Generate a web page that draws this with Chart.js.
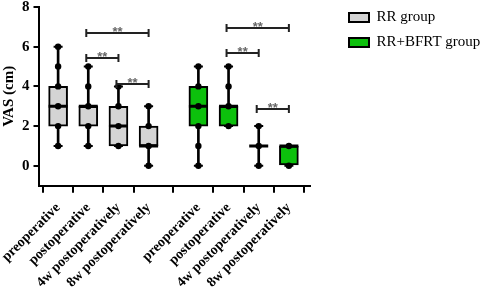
<!DOCTYPE html>
<html>
<head>
<meta charset="utf-8">
<script src="https://cdn.jsdelivr.net/npm/chart.js@4.4.1/dist/chart.umd.min.js"></script>
<style>
html,body{margin:0;padding:0;background:#fff;}
#wrap{width:484px;height:293px;}
</style>
</head>
<body>
<div id="wrap"><canvas id="c" width="484" height="293"></canvas></div>
<script>
// ---- data ----
const categories = ['preoperative', 'postoperative', '4w postoperatively', '8w postoperatively'];
const groupNames = ['RR group', 'RR+BFRT group'];

const rrMin = [1, 1, 1, 0];
const rrQ1  = [2, 2, 1, 1];
const rrMed = [3, 3, 2, 1];
const rrQ3  = [4, 3, 3, 2];
const rrMax = [6, 5, 4, 3];
const rrDots = [[1, 2, 3, 4, 5, 6], [1, 2, 3, 4, 5], [1, 2, 3, 4], [0, 1, 2, 3]];

const bfMin = [0, 2, 0, 0];
const bfQ1  = [2, 2, 1, 0];
const bfMed = [3, 3, 1, 1];
const bfQ3  = [4, 3, 1, 1];
const bfMax = [5, 5, 2, 1];
const bfDots = [[0, 1, 2, 3, 4, 5], [2, 3, 4, 5], [0, 1, 2], [0, 1]];

const yTicks = [0, 2, 4, 6, 8];

// significance comparisons (category indices) and bracket heights (VAS units)
const sigFrom = [1, 1, 2];
const sigTo   = [3, 2, 3];
const sigText = ['**', '**', '**'];
const rrSigY = [6.7, 5.45, 4.1];
const bfSigY = [6.95, 5.7, 2.85];

// ---- layout helpers ----
const GROUP_SHIFT = 4.65, FIRST = 0.65;
const pos = (g, i) => FIRST + g * GROUP_SHIFT + i;
const allPos = [];
const allLabels = [];
[0, 1].forEach(g => categories.forEach((c, i) => { allPos.push(pos(g, i)); allLabels.push(c); }));

const groups = [
  {min: rrMin, q1: rrQ1, med: rrMed, q3: rrQ3, max: rrMax, dots: rrDots, color: '#d4d4d4', sig: rrSigY},
  {min: bfMin, q1: bfQ1, med: bfMed, q3: bfQ3, max: bfMax, dots: bfDots, color: '#0cc00c', sig: bfSigY}
];

const datasets = [];
groups.forEach((G, g) => {
  datasets.push({
    type: 'bar', label: groupNames[g],
    data: categories.map((c, i) => ({x: pos(g, i), y: [G.q1[i], G.q3[i]]})),
    backgroundColor: G.color, borderColor: '#000', borderWidth: 2, borderSkipped: false,
    barThickness: 19, grouped: false, order: 2
  });
  datasets.push({
    type: 'bar', label: 'whisker' + g,
    data: categories.map((c, i) => ({x: pos(g, i), y: [G.min[i], G.max[i]]})),
    backgroundColor: '#000', borderWidth: 0, barThickness: 2, grouped: false, order: 3
  });
  const caps = [];
  categories.forEach((c, i) => { caps.push({x: pos(g, i), y: G.min[i]}); caps.push({x: pos(g, i), y: G.max[i]}); });
  datasets.push({
    type: 'scatter', label: 'caps' + g, data: caps,
    pointStyle: 'line', pointRadius: 4.5, pointBorderWidth: 2, borderColor: '#000', backgroundColor: '#000', order: 1
  });
  datasets.push({
    type: 'scatter', label: 'median' + g,
    data: categories.map((c, i) => ({x: pos(g, i), y: G.med[i]})),
    pointStyle: 'line', pointRadius: 9.5, pointBorderWidth: 3, borderColor: '#000', backgroundColor: '#000', order: 0
  });
  const dots = [];
  categories.forEach((c, i) => G.dots[i].forEach(v => dots.push({x: pos(g, i), y: v})));
  datasets.push({
    type: 'scatter', label: 'dots' + g, data: dots,
    pointStyle: 'circle', pointRadius: 3.2, borderWidth: 0, backgroundColor: '#000', borderColor: '#000', order: 0
  });
});

const serif = '"Liberation Serif", "Times New Roman", serif';

const bracketPlugin = {
  id: 'brackets',
  afterDatasetsDraw(chart) {
    const xs = chart.scales.x, ys = chart.scales.y, ctx = chart.ctx;
    ctx.save();
    groups.forEach((G, g) => {
      sigFrom.forEach((f, k) => {
        const x1 = xs.getPixelForValue(pos(g, f)) - 2, x2 = xs.getPixelForValue(pos(g, sigTo[k]));
        const y = Math.round(ys.getPixelForValue(G.sig[k]));
        ctx.strokeStyle = '#222'; ctx.lineWidth = 2;
        ctx.beginPath();
        ctx.moveTo(x1, y); ctx.lineTo(x2, y);
        ctx.moveTo(x1, y - 4); ctx.lineTo(x1, y + 4);
        ctx.moveTo(x2, y - 4); ctx.lineTo(x2, y + 4);
        ctx.stroke();
        ctx.fillStyle = '#666';
        ctx.font = 'bold 13px "Liberation Sans", Arial, sans-serif';
        ctx.textAlign = 'center'; ctx.textBaseline = 'alphabetic';
        ctx.fillText(sigText[k], (x1 + x2) / 2, y + 3);
      });
    });
    ctx.restore();
  }
};

const LEGEND_W = 174, LEGEND_X = 339;
const legendPlace = {
  id: 'legendPlace',
  beforeLayout(chart) {
    const lg = chart.legend;
    if (lg && !lg._patched) {
      const f = lg.fit.bind(lg);
      lg.fit = function () { f(); this.width = LEGEND_W; };
      lg._patched = true;
    }
  },
  afterLayout(chart) {
    const lg = chart.legend;
    if (lg) { lg.left = LEGEND_X; lg.right = LEGEND_X + LEGEND_W; }
  }
};

new Chart(document.getElementById('c'), {
  type: 'bar',
  data: {datasets},
  plugins: [bracketPlugin, legendPlace],
  options: {
    responsive: false, animation: false,
    layout: {autoPadding: false, padding: {top: 0, right: 0, left: 0, bottom: 0}},
    plugins: {
      tooltip: {enabled: false},
      legend: {
        position: 'right', align: 'start',
        labels: {
          filter: item => item.text === groupNames[0] || item.text === groupNames[1],
          boxWidth: 20, boxHeight: 9, padding: 10, color: '#000',
          font: {family: serif, size: 15}
        }
      }
    },
    scales: {
      x: {
        type: 'linear', min: 0, max: 9, offset: false,
        afterBuildTicks: s => { s.ticks = allPos.map(v => ({value: v})); },
        afterFit: s => { s.paddingLeft = 0; s.paddingRight = 0; s.height -= 5; },
        ticks: {
          autoSkip: false, minRotation: 45, maxRotation: 45, color: '#000', padding: 7,
          font: {family: serif, size: 14, weight: 'bold'},
          callback: (v, i) => allLabels[i]
        },
        grid: {drawOnChartArea: false, color: '#000', lineWidth: 2, tickLength: 7},
        border: {color: '#000', width: 2}
      },
      y: {
        min: -1, max: 8,
        afterBuildTicks: s => { s.ticks = yTicks.map(v => ({value: v})); },
        ticks: {color: '#000', padding: 4, font: {family: serif, size: 15, weight: 'bold', lineHeight: 0.4}},
        grid: {drawOnChartArea: false, color: '#000', lineWidth: 2, tickLength: 5},
        border: {color: '#000', width: 2},
        title: {display: true, text: 'VAS (cm)', color: '#000', padding: 0, font: {family: serif, size: 15, weight: 'bold'}}
      }
    }
  }
});
</script>
</body>
</html>
